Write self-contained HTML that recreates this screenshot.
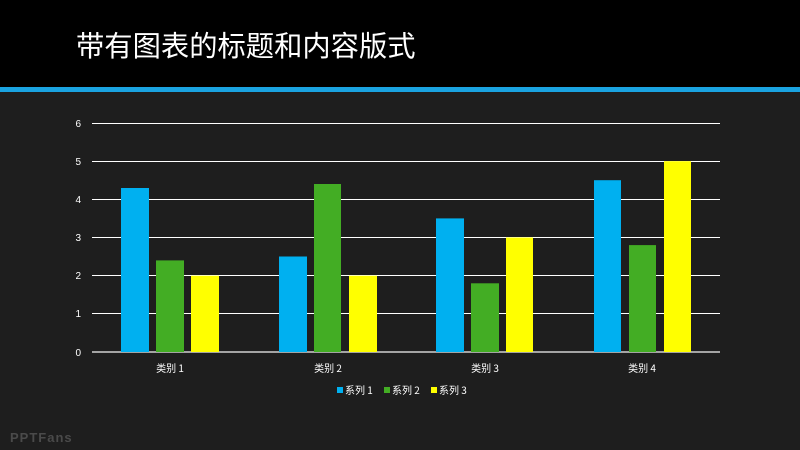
<!DOCTYPE html>
<html><head><meta charset="utf-8"><style>
body{margin:0;width:800px;height:450px;background:#1e1e1e;overflow:hidden;font-family:"Liberation Sans","Noto Sans CJK SC",sans-serif}
</style></head><body>
<svg width="800" height="450" xmlns="http://www.w3.org/2000/svg" style="position:absolute;left:0;top:0">
<rect x="0" y="0" width="800" height="450" fill="#1e1e1e"/>
<rect x="0" y="0" width="800" height="87" fill="#000"/>
<rect x="0" y="87" width="800" height="5" fill="#1aa3e0"/>
<text x="76" y="56" fill="#fff" font-size="28.3" font-family="Noto Sans CJK SC, sans-serif">带有图表的标题和内容版式</text>
<g stroke="#fff" stroke-width="1">
<line x1="92" x2="720" y1="123.5" y2="123.5"/>
<line x1="92" x2="720" y1="161.5" y2="161.5"/>
<line x1="92" x2="720" y1="199.5" y2="199.5"/>
<line x1="92" x2="720" y1="237.5" y2="237.5"/>
<line x1="92" x2="720" y1="275.5" y2="275.5"/>
<line x1="92" x2="720" y1="313.5" y2="313.5"/>
</g>
<line x1="92" x2="720" y1="352" y2="352" stroke="#d0d0d0" stroke-width="1.5"/>
<g fill="#fff" font-size="10" text-anchor="end">
<text x="81" y="127">6</text><text x="81" y="165">5</text><text x="81" y="203">4</text>
<text x="81" y="241">3</text><text x="81" y="279">2</text><text x="81" y="317">1</text><text x="81" y="356">0</text>
</g>
<g fill="#00b0f0">
<rect x="121" y="188" width="28" height="164"/>
<rect x="279" y="256.5" width="28" height="95.5"/>
<rect x="436" y="218.4" width="28" height="133.6"/>
<rect x="594" y="180.2" width="27" height="171.8"/>
</g>
<g fill="#43ad24">
<rect x="156" y="260.4" width="28" height="91.6"/>
<rect x="314" y="184" width="27" height="168"/>
<rect x="471" y="283.3" width="28" height="68.7"/>
<rect x="629" y="245.1" width="27" height="106.9"/>
</g>
<g fill="#ffff00">
<rect x="191" y="275.7" width="28" height="76.3"/>
<rect x="349" y="275.7" width="28" height="76.3"/>
<rect x="506" y="237.5" width="27" height="114.5"/>
<rect x="664" y="161.2" width="27" height="190.8"/>
</g>
<g fill="#fff" font-size="10" text-anchor="middle" font-family="Noto Sans CJK SC, sans-serif">
<text x="170" y="372">类别 1</text><text x="328" y="372">类别 2</text>
<text x="485" y="372">类别 3</text><text x="642" y="372">类别 4</text>
</g>
<g font-size="10" fill="#fff" font-family="Noto Sans CJK SC, sans-serif">
<rect x="337" y="387" width="6" height="6" fill="#00b0f0"/><text x="345" y="394">系列 1</text>
<rect x="384" y="387" width="6" height="6" fill="#43ad24"/><text x="392" y="394">系列 2</text>
<rect x="431" y="387" width="6" height="6" fill="#ffff00"/><text x="439" y="394">系列 3</text>
</g>
<text x="10" y="442" fill="#4a4a4a" font-size="13" font-weight="bold" letter-spacing="1">PPTFans</text>
</svg>
</body></html>
